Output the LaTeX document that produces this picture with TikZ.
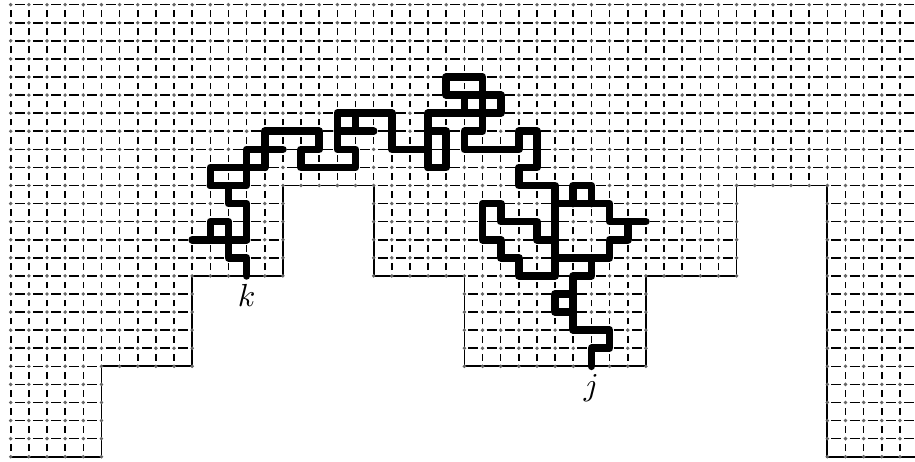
\documentclass[tikz,border=0pt]{standalone}
\usetikzlibrary{calc}
\begin{document}
\begin{tikzpicture}[x=0.2cm, y=0.19926cm,
    % Define the styles for the lattice and the walk
    hline/.style={line width=0.5pt, dash pattern=on 0.11cm off 0.09cm, dash phase=0.155cm},
    vline/.style={line width=0.5pt, dash pattern=on 0.074cm off 0.1253cm, dash phase=0.1367cm},
    boundary/.style={line width=0.55pt},
    site/.style={fill=black!60},
    walk/.style={line width=2.4pt, line cap=round, line join=round}
]
\useasboundingbox (-0.59,-0.238) rectangle (49.83,25.26);

% Dashed lattice above the staircase
\begin{scope}
\clip (-0.3,0) -- (5,0) -- (5,5) -- (10,5) -- (10,10) -- (15,10) -- (15,15) -- (20,15)
    -- (20,10) -- (25,10) -- (25,5) -- (35,5) -- (35,10) -- (40,10) -- (40,15) -- (45,15)
    -- (45,0) -- (50.3,0) -- (50.3,25.3) -- (-0.3,25.3) -- cycle;
\foreach \y in {0,...,25} \draw[hline] (0,\y) -- (50,\y);
\foreach \x in {0,...,50} \draw[vline] (\x,0) -- (\x,25);
\end{scope}

% Draw the staircase boundary
\draw[boundary] (0,0) -- (5,0) -- (5,5) -- (10,5) -- (10,10) -- (15,10) -- (15,15) -- (20,15)
    -- (20,10) -- (25,10) -- (25,5) -- (35,5) -- (35,10) -- (40,10) -- (40,15) -- (45,15)
    -- (45,0) -- (50,0);

% Mark the lattice sites
\foreach \a/\b/\l in {0/5/0, 6/10/5, 11/15/10, 16/19/15, 20/24/10, 25/35/5, 36/40/10, 41/44/15, 45/50/0} {
    \foreach \x in {\a,...,\b} {
        \foreach \y in {\l,...,25} {
            \fill[site] (\x,\y) circle (0.6pt);
        }
    }
}

% Define the end points of the walk
\coordinate (k) at (13,10);
\coordinate (j) at (32,5);

% Draw the walk
\draw[walk] (10,12) -- (13,12);
\draw[walk] (k) -- (13,11) -- (12,11) -- (12,13) -- (11,13) -- (11,12);
\draw[walk] (13,12) -- (13,14) -- (12,14) -- (12,15) -- (11,15) -- (11,16) -- (14,16);
\draw[walk] (11,15) -- (13,15) -- (13,17) -- (15,17);
\draw[walk] (14,16) -- (14,18) -- (17,18) -- (17,17) -- (16,17) -- (16,16) -- (19,16) -- (19,17)
    -- (18,17) -- (18,19) -- (21,19) -- (21,17) -- (23,17);
\draw[walk] (19,19) -- (19,18);
\draw[walk] (18,18) -- (20,18);
\draw[walk] (23,16) -- (23,19) -- (27,19) -- (27,20) -- (24,20) -- (24,21) -- (26,21) -- (26,18)
    -- (25,18) -- (25,17) -- (28,17) -- (28,18) -- (29,18) -- (29,16) -- (28,16) -- (28,15)
    -- (30,15) -- (30,10) -- (28,10) -- (28,11) -- (27,11) -- (27,12) -- (26,12) -- (26,14)
    -- (27,14) -- (27,13) -- (29,13) -- (29,12) -- (30,12);
\draw[walk] (23,18) -- (24,18) -- (24,16) -- (23,16);
\draw[walk] (25,20) -- (25,19);
\draw[walk] (30,14) -- (33,14) -- (33,13) -- (35,13);
\draw[walk] (34,13) -- (34,12) -- (33,12) -- (33,11) -- (30,11);
\draw[walk] (31,14) -- (31,15) -- (32,15) -- (32,14);
\draw[walk] (32,11) -- (32,10) -- (31,10) -- (31,7) -- (33,7) -- (33,6) -- (32,6) -- (j);
\draw[walk] (31,9) -- (30,9) -- (30,8) -- (31,8);

% Add the end point labels
\node[below, inner sep=2.4pt] (klabel) at (k) {$k$};
\node[below, inner sep=2.4pt] (jlabel) at (j) {$j$};
\end{tikzpicture}
\end{document}
